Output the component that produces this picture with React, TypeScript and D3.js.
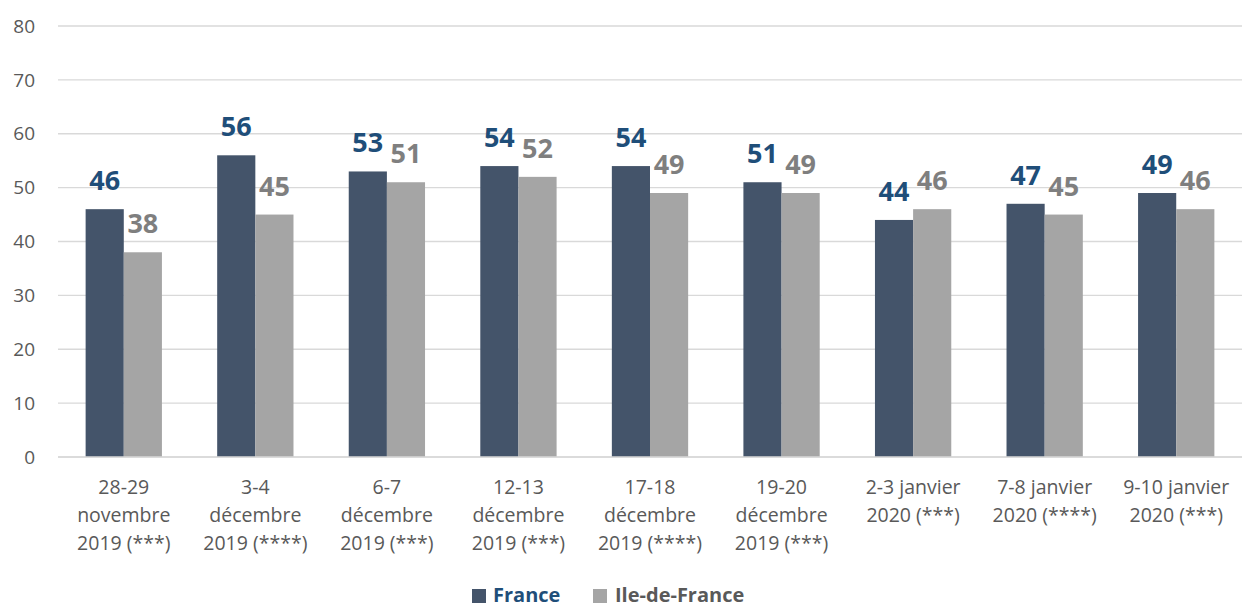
import React from "react";
import * as d3 from "d3";

const width = 1242;
const height = 608;
const margin = { top: 26, right: 0, bottom: 151, left: 58 };

const categories = [
  ["28-29", "novembre", "2019 (***)"],
  ["3-4", "décembre", "2019 (****)"],
  ["6-7", "décembre", "2019 (***)"],
  ["12-13", "décembre", "2019 (***)"],
  ["17-18", "décembre", "2019 (****)"],
  ["19-20", "décembre", "2019 (***)"],
  ["2-3 janvier", "2020 (***)"],
  ["7-8 janvier", "2020 (****)"],
  ["9-10 janvier", "2020 (***)"],
];
const france = [46, 56, 53, 54, 54, 51, 44, 47, 49];
const idf = [38, 45, 51, 52, 49, 49, 46, 45, 46];
const yTicks = [0, 10, 20, 30, 40, 50, 60, 70, 80];

const series = [
  { name: "France", values: france, fill: "#44546A", label: "#1F4E79" },
  { name: "Ile-de-France", values: idf, fill: "#A5A5A5", label: "#7F7F7F" },
];

const font = "'Open Sans', sans-serif";

export default function App() {
  const innerBottom = height - margin.bottom;
  const x = d3
    .scaleBand<number>()
    .domain(d3.range(categories.length))
    .range([margin.left, width - margin.right])
    .paddingInner(0.42)
    .paddingOuter(0.21);
  const xSub = d3
    .scaleBand<number>()
    .domain([0, 1])
    .range([0, x.bandwidth()]);
  const y = d3.scaleLinear().domain([0, 80]).range([innerBottom, margin.top]);

  return (
    <svg width={width} height={height} style={{ position: "absolute", left: 0, top: 0 }}>
      <rect width={width} height={height} fill="#fff" />
      {yTicks.map((t) => (
        <g key={t}>
          <line
            x1={margin.left}
            x2={width - margin.right}
            y1={y(t)}
            y2={y(t)}
            stroke="#D9D9D9"
            strokeWidth={1.3}
          />
          <text
            x={35}
            y={y(t)}
            dy="0.35em"
            textAnchor="end"
            fontFamily={font}
            fontSize={19}
            fill="#595959"
          >
            {t}
          </text>
        </g>
      ))}

      {categories.map((lines, i) => {
        const cx = x(i)! + x.bandwidth() / 2;
        return (
          <g key={i}>
            {series.map((s, j) => {
              const v = s.values[i];
              const bx = x(i)! + xSub(j)!;
              return (
                <g key={s.name}>
                  <rect
                    x={bx}
                    y={y(v)}
                    width={xSub.bandwidth()}
                    height={innerBottom - y(v)}
                    fill={s.fill}
                  />
                  <text
                    x={bx + xSub.bandwidth() / 2}
                    y={y(v) - 19}
                    textAnchor="middle"
                    fontFamily={font}
                    fontWeight="bold"
                    fontSize={27}
                    fill={s.label}
                  >
                    {v}
                  </text>
                </g>
              );
            })}
            {lines.map((l, k) => (
              <text
                key={k}
                x={cx}
                y={494 + k * 28}
                textAnchor="middle"
                fontFamily={font}
                fontSize={19.5}
                fill="#595959"
              >
                {l}
              </text>
            ))}
          </g>
        );
      })}

      <line
        x1={margin.left}
        x2={width - margin.right}
        y1={innerBottom}
        y2={innerBottom}
        stroke="#D9D9D9"
        strokeWidth={1.3}
      />

      {/* Legend */}
      <g fontFamily={font} fontSize={20} fontWeight="bold">
        <rect x={472} y={589} width={14} height={14} fill="#44546A" />
        <text x={493} y={602} fill="#1F4E79">France</text>
        <rect x={593} y={589} width={14} height={14} fill="#A5A5A5" />
        <text x={615} y={602} fill="#595959">Ile-de-France</text>
      </g>
    </svg>
  );
}
